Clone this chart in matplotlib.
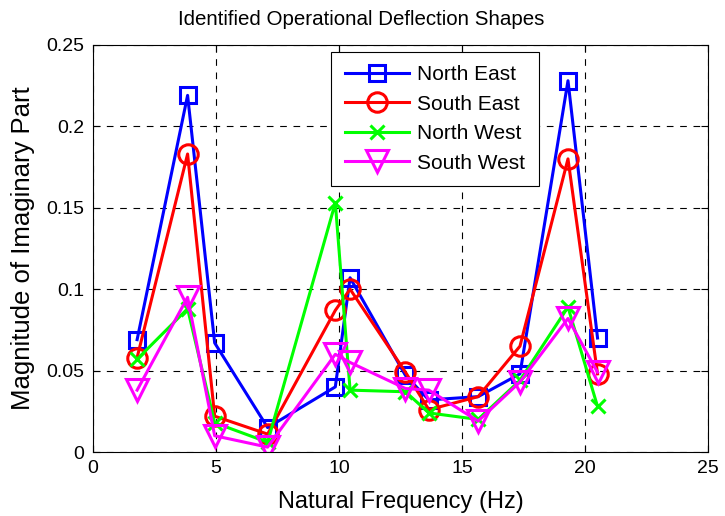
import numpy as np
import matplotlib
matplotlib.use("Agg")
import matplotlib.pyplot as plt

plt.rcParams['font.family'] = ['Liberation Sans', 'DejaVu Sans']

# Natural frequencies (Hz)
freq = [1.8, 3.85, 4.95, 7.1, 9.85, 10.45, 12.7, 13.65, 15.65, 17.35, 19.3, 20.5]

# Magnitude of imaginary part for each corner
north_east = [0.069, 0.219, 0.067, 0.015, 0.040, 0.107, 0.047, 0.032, 0.034, 0.048, 0.228, 0.070]
south_east = [0.058, 0.183, 0.022, 0.011, 0.087, 0.100, 0.049, 0.026, 0.034, 0.065, 0.180, 0.048]
north_west = [0.057, 0.088, 0.018, 0.006, 0.153, 0.038, 0.037, 0.024, 0.020, 0.044, 0.089, 0.028]
south_west = [0.038, 0.095, 0.010, 0.003, 0.060, 0.055, 0.039, 0.038, 0.019, 0.043, 0.082, 0.049]

fig = plt.figure(figsize=(7.25, 5.16), dpi=100)
ax = fig.add_axes([0.128, 0.124, 0.849, 0.789])

lw = 2.2
ax.plot(freq, north_east, color='blue', marker='s', markersize=12, markerfacecolor='none',
        markeredgewidth=lw, linewidth=lw, label='North East')
ax.plot(freq, south_east, color='red', marker='o', markersize=14, markerfacecolor='none',
        markeredgewidth=lw, linewidth=lw, label='South East')
ax.plot(freq, north_west, color='lime', marker='x', markersize=10,
        markeredgewidth=lw, linewidth=lw, label='North West')
ax.plot(freq, south_west, color='magenta', marker='v', markersize=16, markerfacecolor='none',
        markeredgewidth=lw, linewidth=lw, label='South West')

ax.set_xlim(0, 25)
ax.set_ylim(0, 0.25)
ax.set_xticks([0, 5, 10, 15, 20, 25])
ax.set_yticks([0, 0.05, 0.1, 0.15, 0.2, 0.25])
ax.set_yticklabels(['0', '0.05', '0.1', '0.15', '0.2', '0.25'])
ax.tick_params(direction='in', top=True, right=True, labelsize=14, length=5, pad=6)
ax.grid(True, linestyle=(0, (6, 6)), color='black', linewidth=0.8)

# title sits a bit left of the axes centre in the original
ax.set_title('Identified Operational Deflection Shapes', fontsize=14.8, pad=14, x=0.436)
ax.set_xlabel('Natural Frequency (Hz)', fontsize=17, labelpad=10)
ax.set_ylabel('Magnitude of Imaginary Part', fontsize=18.5, labelpad=8)

leg = ax.legend(loc='upper left', bbox_to_anchor=(0.387, 0.983), fontsize=15,
                handlelength=3.1, handletextpad=0.4, fancybox=False, framealpha=1,
                edgecolor='black', borderaxespad=0, labelspacing=0.5,
                borderpad=0.65)
leg.get_frame().set_linewidth(0.8)

fig.savefig('out.png', dpi=100)
